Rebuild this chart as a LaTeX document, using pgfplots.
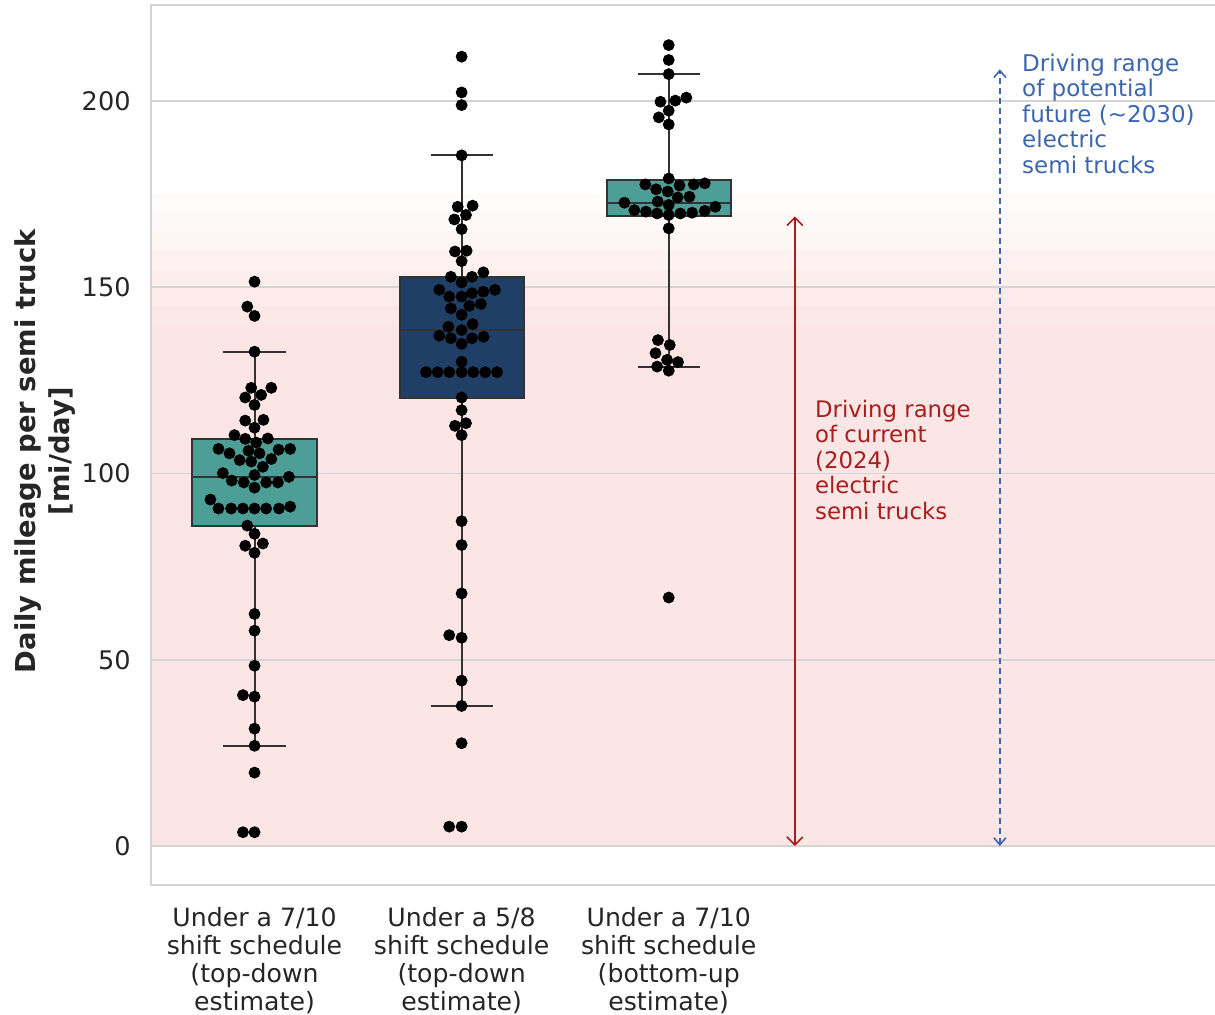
\documentclass[border=0pt]{standalone}
\usepackage{pgfplots}
\pgfplotsset{compat=1.18}
\usepackage{pgfplotstable}
\usepgfplotslibrary{statistics}
\usetikzlibrary{arrows.meta}
\usepackage{fontspec}
\setmainfont{DejaVu Sans}
\setsansfont{DejaVu Sans}
\definecolor{tealbox}{HTML}{4C9E97}
\definecolor{navybox}{HTML}{1F3F66}
\definecolor{pinkbg}{HTML}{FCE5E5}
\definecolor{edgegray}{HTML}{333333}
\definecolor{gridgray}{HTML}{D4D4D4}
\definecolor{annred}{HTML}{A81E1E}
\definecolor{annblue}{HTML}{3A66B0}
\definecolor{txt}{HTML}{262626}

\pgfplotstableread{
x y
0 151.5
-0.035 144.8
0 142.3
0 132.7
-0.016 123.0
0.081 123.0
0.032 121.1
-0.045 120.4
0 118.4
0.043 114.4
-0.045 114.2
0 112.3
-0.097 110.3
0.064 109.4
-0.045 109.3
0.008 108.3
-0.174 106.6
0.172 106.6
0.116 106.4
-0.029 106.1
-0.121 105.4
0.024 105.4
0.081 103.9
-0.072 103.6
-0.016 103.2
0.040 101.8
-0.153 100.1
0 99.6
0.166 99.1
-0.110 98.1
-0.052 97.6
0.056 97.6
0.113 97.6
0 96.2
-0.213 93.0
0.172 91.1
-0.174 90.6
-0.113 90.6
-0.056 90.6
0 90.6
0.056 90.6
0.118 90.6
-0.035 86.0
0 83.8
0.040 81.2
-0.045 80.6
0 78.7
0 62.3
0 57.8
0 48.4
-0.056 40.5
0 40.1
0 31.5
0 26.9
0 19.7
-0.056 3.7
0 3.7
}\groupA

\pgfplotstableread{
x y
1 211.9
1 202.3
1 198.9
1 185.4
1.053 171.9
0.981 171.6
1.021 169.4
0.965 168.2
1 165.6
1.024 159.8
0.968 159.6
1 157.0
1.105 154.0
0.948 152.8
1.050 152.8
1 151.3
0.892 149.3
1.161 149.3
1.105 148.8
1.050 148.4
0.940 147.5
1 147.5
1.093 145.5
1.037 145.0
0.948 144.3
1 142.6
1.053 140.1
0.936 139.4
1 138.5
0.892 137.0
1.106 136.7
0.948 136.3
1.050 136.3
1 134.8
1 130.0
0.828 127.2
0.884 127.2
0.940 127.2
1 127.2
1.056 127.2
1.114 127.2
1.171 127.2
1 120.4
1 117.0
1.021 113.5
0.968 112.8
1 110.3
1 87.2
1 80.8
1 67.8
0.940 56.6
1 55.9
1 44.4
1 37.6
1 27.6
0.940 5.2
1 5.2
}\groupB

\pgfplotstableread{
x y
2 215.0
2 211.0
2 207.2
2.085 200.9
2.032 200.1
1.960 199.8
2 197.4
1.952 195.6
2 193.7
2 179.2
2.174 177.9
1.887 177.6
2.121 177.6
2.052 177.3
1.939 176.3
1.995 175.7
2.100 174.3
2.043 174.1
1.947 173.0
1.786 172.7
2 172.1
2.225 171.6
1.834 170.7
2.174 170.5
1.890 170.3
2.113 170.0
1.944 169.8
2.056 169.8
2 169.4
2 165.8
1.948 135.8
2.005 134.5
1.936 132.3
1.992 130.5
2.045 129.9
1.944 128.7
2 127.6
2 66.7
}\groupC

\begin{document}
\begin{tikzpicture}
\begin{axis}[
  set layers,
  at={(0,0)}, anchor=south west,
  scale only axis,
  width=534.5pt, height=440pt,
  xmin=-0.5, xmax=4.662,
  ymin=-10.47, ymax=225.77,
  axis line style={draw=gridgray, line width=0.8pt},
  ymajorgrids,
  grid style={gridgray, line width=0.8pt},
  major tick length=0pt,
  ytick={0,50,100,150,200},
  xtick={0,1,2},
  xticklabels={{Under a 7/10\\shift schedule\\(top-down\\estimate)},
               {Under a 5/8\\shift schedule\\(top-down\\estimate)},
               {Under a 7/10\\shift schedule\\(bottom-up\\estimate)}},
  /pgf/number format/assume math mode=true,
  xticklabel style={align=center, font=\fontsize{12.6}{14}\selectfont, text=txt, inner sep=0pt, yshift=-11pt},
  yticklabel style={font=\fontsize{12.8}{14}\selectfont, text=txt, inner sep=0pt, xshift=-10pt},
  every axis y label/.style={at={(axis description cs:-0.0992,0.493)}, rotate=90, anchor=center},
  ylabel={Daily mileage per semi truck\\{}[mi/day]},
  ylabel style={align=center, font=\fontsize{13.7}{17}\selectfont\bfseries, text=txt},
  boxplot/draw direction=y,
  clip=false,
]
% pink background band (current range region), fading to white at its top
\addplot[on layer=axis background, draw=none, fill=pinkbg] coordinates {(-0.5,0) (4.662,0) (4.662,140) (-0.5,140)} -- cycle;
\addplot[on layer=axis background, draw=none, fill=pinkbg!94!white] coordinates {(-0.5,140) (4.662,140) (4.662,145) (-0.5,145)} -- cycle;
\addplot[on layer=axis background, draw=none, fill=pinkbg!80!white] coordinates {(-0.5,145) (4.662,145) (4.662,150) (-0.5,150)} -- cycle;
\addplot[on layer=axis background, draw=none, fill=pinkbg!66!white] coordinates {(-0.5,150) (4.662,150) (4.662,155) (-0.5,155)} -- cycle;
\addplot[on layer=axis background, draw=none, fill=pinkbg!52!white] coordinates {(-0.5,155) (4.662,155) (4.662,160) (-0.5,160)} -- cycle;
\addplot[on layer=axis background, draw=none, fill=pinkbg!38!white] coordinates {(-0.5,160) (4.662,160) (4.662,165) (-0.5,165)} -- cycle;
\addplot[on layer=axis background, draw=none, fill=pinkbg!24!white] coordinates {(-0.5,165) (4.662,165) (4.662,170) (-0.5,170)} -- cycle;
\addplot[on layer=axis background, draw=none, fill=pinkbg!10!white] coordinates {(-0.5,170) (4.662,170) (4.662,175) (-0.5,175)} -- cycle;

% boxes
\addplot[fill=tealbox, draw=edgegray, line width=1pt,
  boxplot prepared={draw position=0, lower whisker=26.9, lower quartile=85.9, median=99.1, upper quartile=109.3, upper whisker=132.7, box extend=0.6, whisker extend=0.3}] coordinates {};
\addplot[fill=navybox, draw=edgegray, line width=1pt,
  boxplot prepared={draw position=1, lower whisker=37.6, lower quartile=120.2, median=138.5, upper quartile=152.8, upper whisker=185.4, box extend=0.6, whisker extend=0.3}] coordinates {};
\addplot[fill=tealbox, draw=edgegray, line width=1pt,
  boxplot prepared={draw position=2, lower whisker=128.7, lower quartile=169.0, median=172.7, upper quartile=178.8, upper whisker=207.2, box extend=0.6, whisker extend=0.3}] coordinates {};

% swarm points
\addplot[only marks, mark=*, mark size=2.75pt, black] table[x=x, y=y] {\groupA};
\addplot[only marks, mark=*, mark size=2.75pt, black] table[x=x, y=y] {\groupB};
\addplot[only marks, mark=*, mark size=2.75pt, black] table[x=x, y=y] {\groupC};

% range arrows
\addplot[annred, line width=0.8pt, {Straight Barb[length=4pt,width=8pt]}-{Straight Barb[length=4pt,width=8pt]}] coordinates {(2.609,0) (2.609,169)};
\addplot[annblue, line width=0.8pt, dash pattern=on 3pt off 2pt, {Straight Barb[length=3.5pt,width=6pt]}-{Straight Barb[length=3.5pt,width=6pt]}] coordinates {(3.599,0) (3.599,208.5)};

\node[anchor=north west, align=left, inner sep=0pt, text=annred, font=\fontsize{11.4}{12.75}\selectfont] at (axis cs:2.705,119.8) {Driving range\\of current\\(2024)\\electric\\semi trucks};
\node[anchor=north west, align=left, inner sep=0pt, text=annblue, font=\fontsize{11.5}{12.75}\selectfont] at (axis cs:3.705,212.8) {Driving range\\of potential\\future (\textasciitilde 2030)\\electric\\semi trucks};
\end{axis}
\pgfresetboundingbox
\path (-75.5pt,-64.5pt) rectangle (532pt,442.5pt);
\end{tikzpicture}
\end{document}
